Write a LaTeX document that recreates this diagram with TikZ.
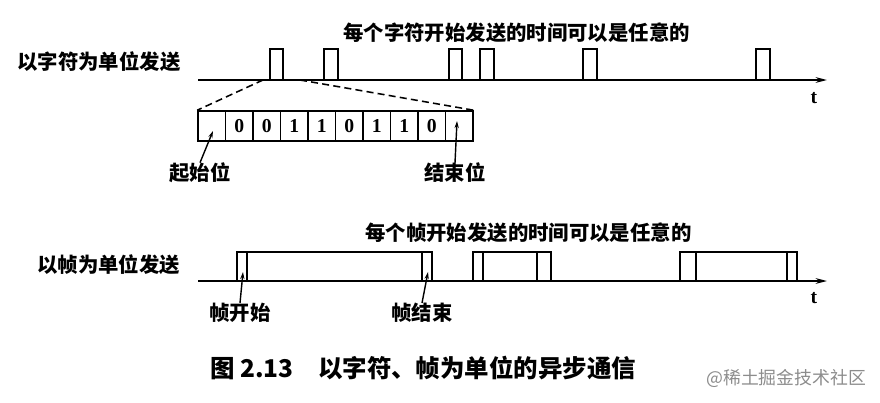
\documentclass[tikz,border=0pt]{standalone}
\usepackage{fontspec}
\newfontfamily\hei{Noto Sans CJK SC}
\newfontfamily\digitfont{Liberation Serif}
\usetikzlibrary{arrows.meta,positioning}

\begin{document}
\begin{tikzpicture}[
  x=0.025cm, y=-0.025cm,
  lbl/.style={font=\hei\bfseries\fontsize{14.5}{16}\selectfont, inner sep=0pt},
  bitcell/.style={draw, line width=1.1pt, minimum width=0.6875cm, minimum height=0.75cm,
                  inner sep=0pt, font=\digitfont\bfseries\fontsize{14}{15}\selectfont},
  sig/.style={line width=1.3pt},
  axis/.style={line width=1.3pt, -{Stealth[length=8pt,width=4pt]}},
  ptr/.style={line width=1pt, -{Stealth[length=5pt,width=3pt]}},
  zoomline/.style={line width=1.1pt, dash pattern=on 5pt off 3pt},
  tlbl/.style={font=\digitfont\bfseries\fontsize{14}{15}\selectfont, inner sep=0pt}
]
\useasboundingbox (0,0) rectangle (880,402);

\node[lbl, anchor=west] (charlbl) at (17,62) {以字符为单位发送};
\node[lbl, anchor=west] (charnote) at (343,33) {每个字符开始发送的时间可以是任意的};
\coordinate (charstart) at (198,80);
\coordinate (charend) at (827,80);
\draw[axis] (charstart) -- (charend);
\node[tlbl] (chart) at (814,98) {t};
\foreach \a/\b in {270/283,324/338,449/462,480/494,583/597,756/770}
  \draw[sig] (\a,80) |- (\b,49) -- (\b,80);

\foreach \v [count=\i] in {{},0,0,1,1,0,1,1,0,{}}
  \node[bitcell] (cell\i) at ({184.25+27.5*\i},126) {\v};
\coordinate (zoomleft) at (263,80);
\coordinate (zoomright) at (300,80);
\draw[zoomline] (zoomleft) -- (cell1.north west);
\draw[zoomline] (zoomright) -- (cell10.north east);

\node[lbl] (startlbl) at (200,173) {起始位};
\node[lbl] (stoplbl) at (455,173) {结束位};
\coordinate (startbit) at (213,131);
\coordinate (stopbit) at (457,121);
\draw[ptr] (startlbl.north) -- (startbit);
\draw[ptr] (stoplbl.north) -- (stopbit);

\node[lbl, anchor=west] (framelbl) at (37,265) {以帧为单位发送};
\node[lbl, anchor=west] (framenote) at (365,233) {每个帧开始发送的时间可以是任意的};
\coordinate (framestart) at (198,281);
\coordinate (frameend) at (827,281);
\draw[axis] (framestart) -- (frameend);
\node[tlbl] (framet) at (814,298) {t};
\foreach \a/\b/\c/\d in {237/247/422/432,473/483/537/551,680/696/787/797} {
  \draw[sig] (\a,281) |- (\d,252) -- (\d,281);
  \draw[sig] (\b,252) -- (\b,281);
  \draw[sig] (\c,252) -- (\c,281);
}

\node[lbl] (headlbl) at (240,313) {帧开始};
\node[lbl] (taillbl) at (422,313) {帧结束};
\coordinate (headflag) at (243,272);
\coordinate (tailflag) at (428,272);
\draw[ptr] (headlbl.north) -- (headflag);
\draw[ptr] (taillbl.north) -- (tailflag);

\node[lbl, font=\hei\bfseries\fontsize{17.4}{20}\selectfont, anchor=west] (caption) at (210,368)
  {图 2.13\quad 以字符、帧为单位的异步通信};
\node[font=\hei\fontsize{12.7}{14}\selectfont, text=black!45, anchor=west, inner sep=0pt]
  (mark) at (706,378) {@稀土掘金技术社区};
\end{tikzpicture}
\end{document}
